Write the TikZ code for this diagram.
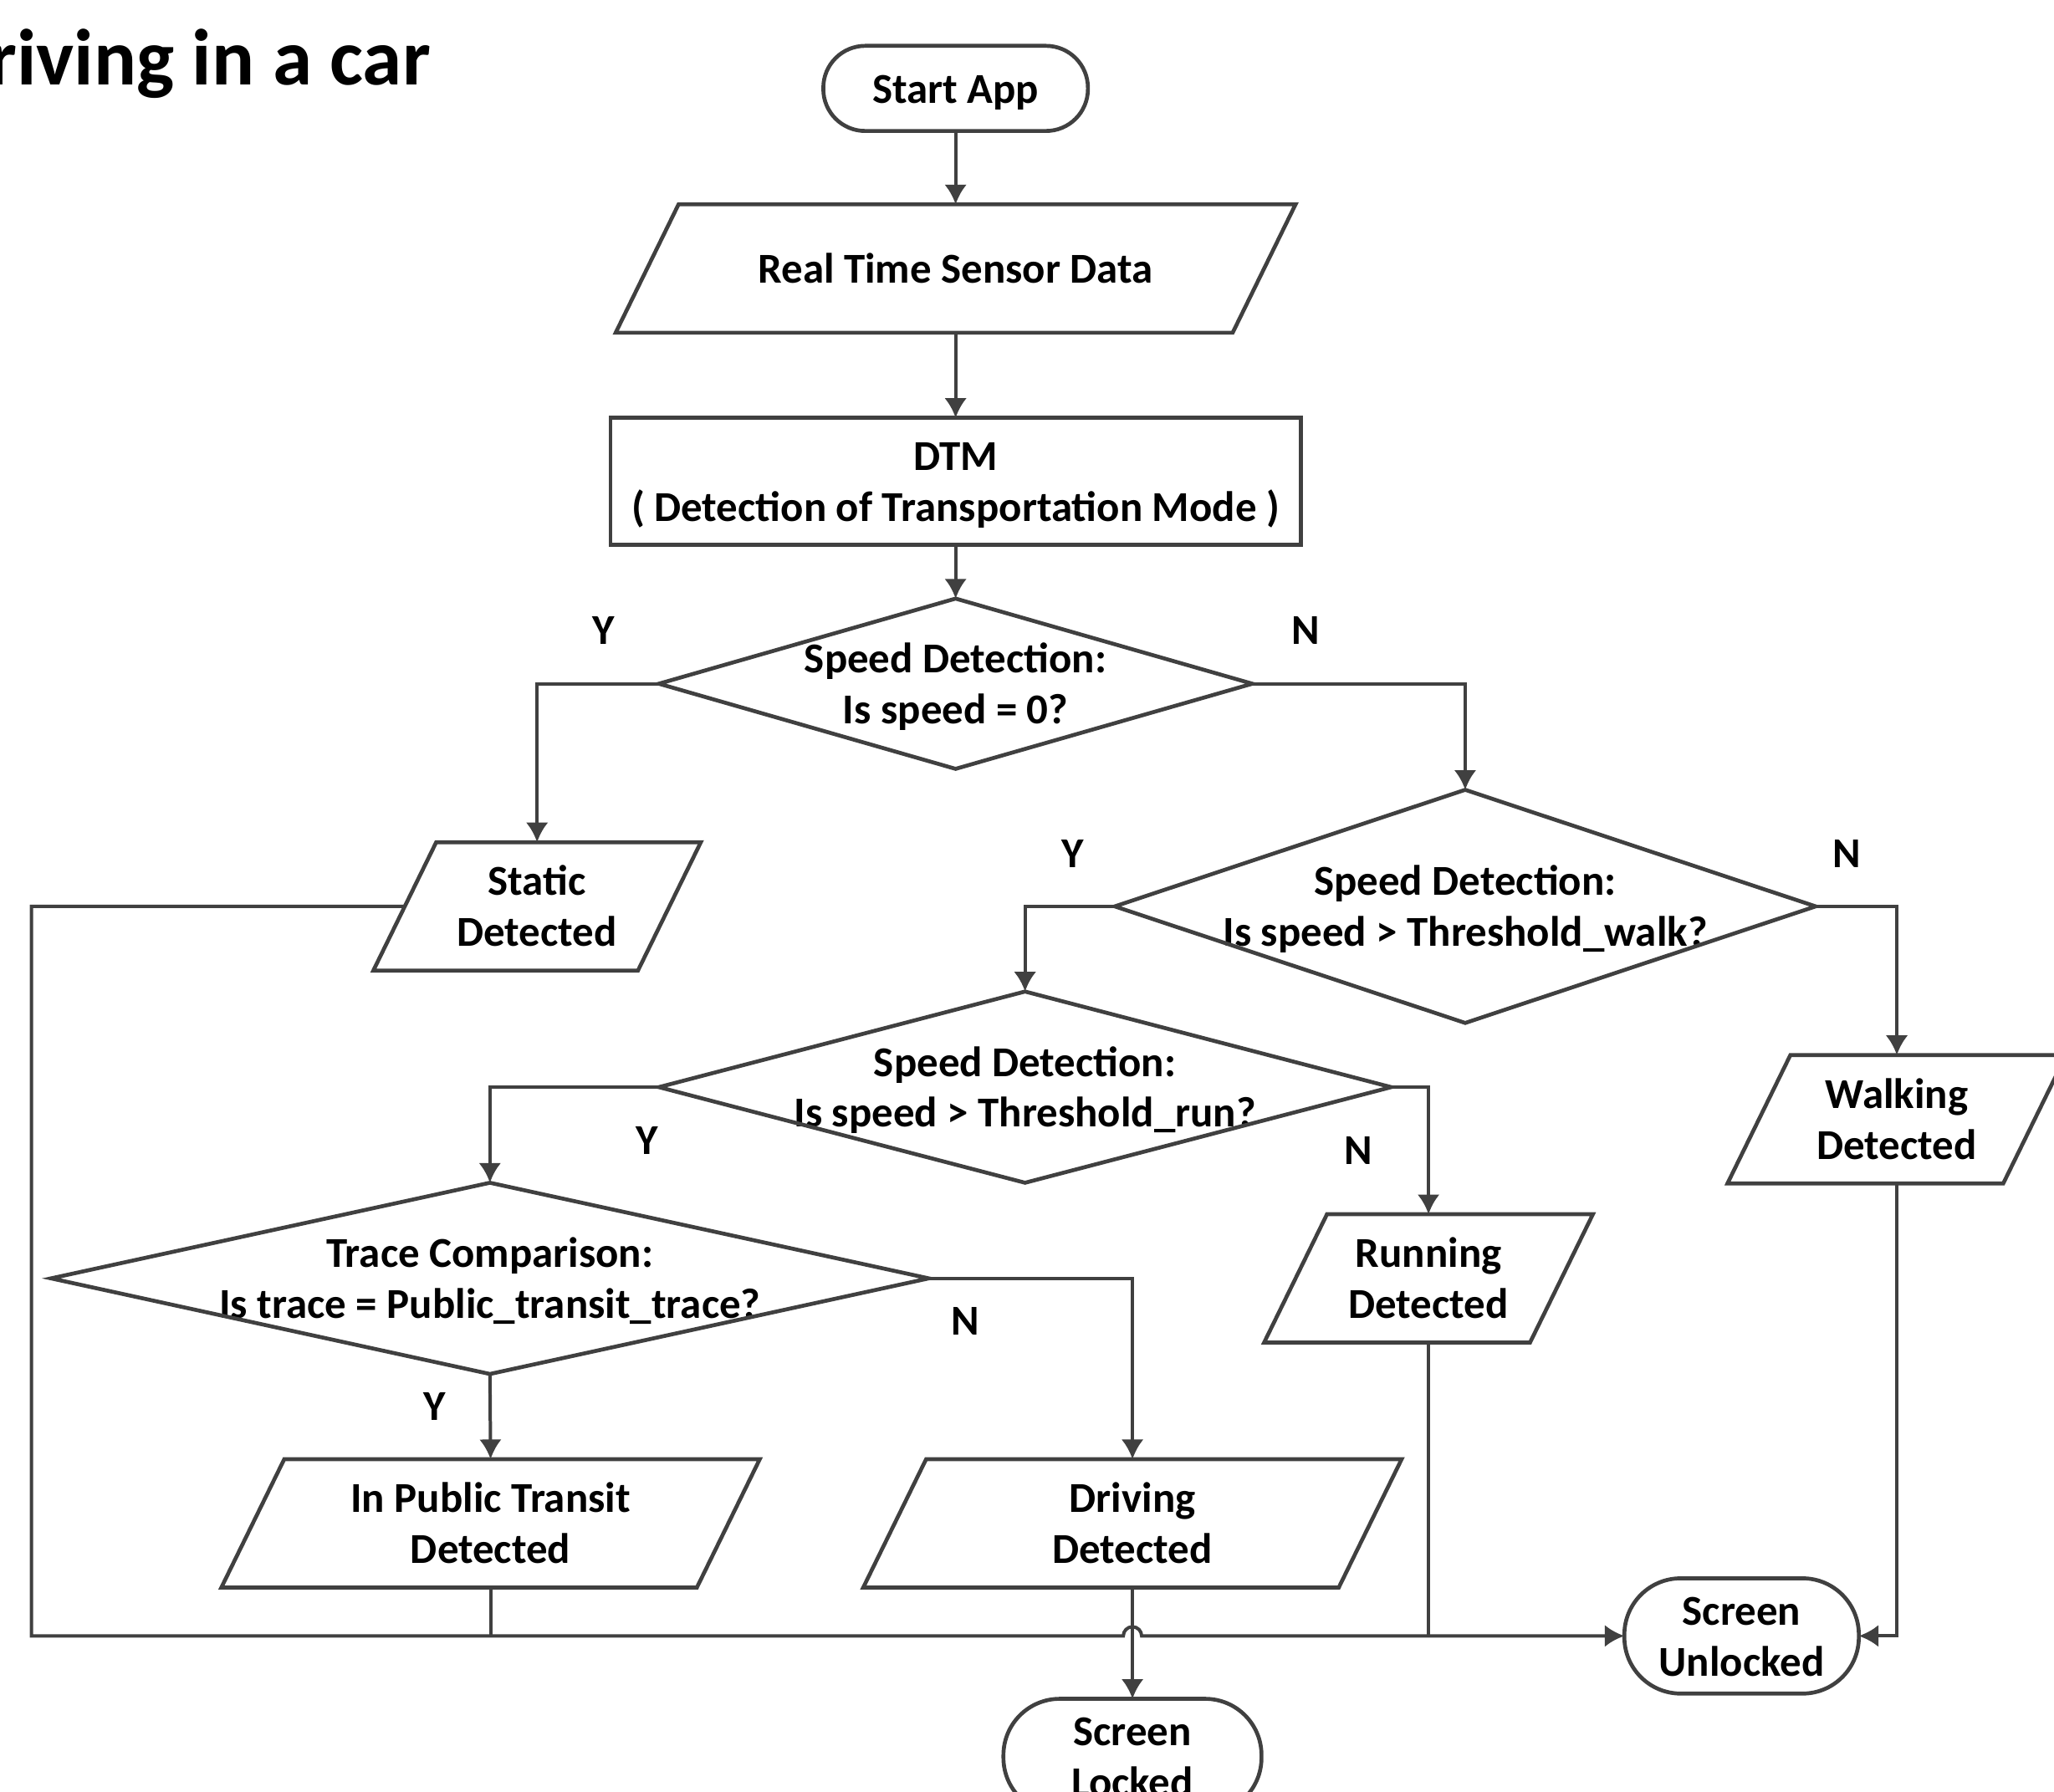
\documentclass[tikz,border=0pt]{standalone}
\usepackage{fontspec}
\setmainfont{Carlito}
\usepackage{tikz}
\usetikzlibrary{arrows.meta}

\definecolor{linegray}{HTML}{404040}

% two centred lines with the line box of the font
\newcommand\twolines[2]{\rule{0pt}{0.952em}#1\\#2\rule[-0.269em]{0pt}{0.269em}}

\tikzset{
  txt/.style={font=\bfseries\fontsize{18.5}{22.1}\selectfont, align=center, inner sep=0pt, outer sep=0pt,
    execute at begin node={\rule[-0.269em]{0pt}{1.221em}},
    execute at end node={\rule[-0.269em]{0pt}{1.221em}}},
  termbox/.style={txt, draw=linegray, line width=1.7pt, rounded corners=0.86cm},
  iobox/.style={txt, minimum width=#1, minimum height=1.96cm},
  decbox/.style 2 args={txt, minimum width=#1, minimum height=#2},
  shapeline/.style={draw=linegray, line width=1.7pt},
  flow/.style={draw=linegray, line width=1.45pt, arrows={-Latex[width=0.34cm, length=0.30cm]}},
  link/.style={draw=linegray, line width=1.45pt},
}

\begin{document}
\begin{tikzpicture}
  \useasboundingbox (0,0) rectangle (31.36,-27.36);

  % title, cut by the page edge
  \node[font=\bfseries\fontsize{34.6}{41}\selectfont, anchor=base west, inner sep=0pt] (title) at (-0.18,-1.30) {riving in a car};

  % blocks
  \node[termbox, minimum width=4.04cm, minimum height=1.30cm, rounded corners=0.64cm] (start) at (14.59,-1.35) {Start App};
  \node[iobox=10.38cm] (sensor) at (14.59,-4.10) {Real Time Sensor Data};
  \node[txt, draw=linegray, line width=1.7pt, minimum width=10.54cm, minimum height=1.94cm] (dtm) at (14.59,-7.35) {\twolines{DTM}{( Detection of Transportation Mode )}};
  \node[decbox={9.06cm}{2.60cm}] (speedzero) at (14.59,-10.44) {\twolines{Speed Detection:}{Is speed = 0?}};
  \node[iobox=5.00cm] (static) at (8.20,-13.84) {\twolines{Static}{Detected}};
  \node[decbox={10.70cm}{3.56cm}] (speedwalk) at (22.37,-13.84) {\twolines{Speed Detection:}{Is speed > Threshold\_walk?}};
  \node[decbox={11.18cm}{2.92cm}] (speedrun) at (15.65,-16.60) {\twolines{Speed Detection:}{Is speed > Threshold\_run?}};
  \node[iobox=5.17cm] (walking) at (28.96,-17.09) {\twolines{Walking}{Detected}};
  \node[decbox={13.40cm}{2.92cm}] (trace) at (7.48,-19.52) {\twolines{Trace Comparison:}{Is trace = Public\_transit\_trace?}};
  \node[iobox=5.02cm] (running) at (21.81,-19.52) {\twolines{Running}{Detected}};
  \node[iobox=8.22cm] (transit) at (7.49,-23.26) {\twolines{In Public Transit}{Detected}};
  \node[iobox=8.22cm] (driving) at (17.29,-23.26) {\twolines{Driving}{Detected}};
  \node[termbox, minimum width=3.58cm, minimum height=1.76cm] (unlocked) at (26.59,-24.98) {\twolines{Screen}{Unlocked}};
  \node[termbox, minimum width=3.94cm, minimum height=1.76cm] (locked) at (17.29,-26.82) {\twolines{Screen}{Locked}};

  % outlines
  \foreach \n in {sensor,static,walking,running,transit,driving}
    \draw[shapeline] ([xshift=0.96cm]\n.north west) -- (\n.north east) -- ([xshift=-0.96cm]\n.south east) -- (\n.south west) -- cycle;
  \foreach \n in {speedzero,speedwalk,speedrun,trace}
    \draw[shapeline] (\n.north) -- (\n.east) -- (\n.south) -- (\n.west) -- cycle;

  % branch labels
  \node[txt] (y1) at (9.22,-9.62) {Y};
  \node[txt] (n1) at (19.94,-9.62) {N};
  \node[txt] (y2) at (16.38,-13.02) {Y};
  \node[txt] (n2) at (28.20,-13.02) {N};
  \node[txt] (y3) at (9.88,-17.40) {Y};
  \node[txt] (n3) at (20.74,-17.56) {N};
  \node[txt] (n4) at (14.74,-20.16) {N};
  \node[txt] (y4) at (6.64,-21.46) {Y};

  % connectors
  \draw[flow] (start.south) -- (sensor.north);
  \draw[flow] (sensor.south) -- (dtm.north);
  \draw[flow] (dtm.south) -- (speedzero.north);
  \draw[flow] (speedzero.west) -| (static.north);
  \draw[flow] (speedzero.east) -| (speedwalk.north);
  \draw[flow] (speedwalk.west) -| (speedrun.north);
  \draw[flow] (speedwalk.east) -| (walking.north);
  \draw[flow] (speedrun.west) -| (trace.north);
  \draw[flow] (speedrun.east) -| (running.north);
  \draw[flow] (trace.south) -- (transit.north);
  \draw[flow] (trace.east) -| (driving.north);
  \draw[flow] (driving.south) -- (locked.north);

  % bottom line to the unlocked screen
  \coordinate (corner) at (0.48,-24.98);
  \coordinate (hop) at (driving.south |- unlocked.west);
  \draw[flow] ([xshift=0.48cm]static.west) -| (corner) -- ([xshift=-0.14cm]hop) arc[start angle=180, end angle=0, radius=0.14cm] -- (unlocked.west);
  \draw[link] (transit.south) -- (transit.south |- unlocked.west);
  \draw[link] (running.south) -- (running.south |- unlocked.west);
  \draw[flow] (walking.south) |- (unlocked.east);
\end{tikzpicture}
\end{document}
